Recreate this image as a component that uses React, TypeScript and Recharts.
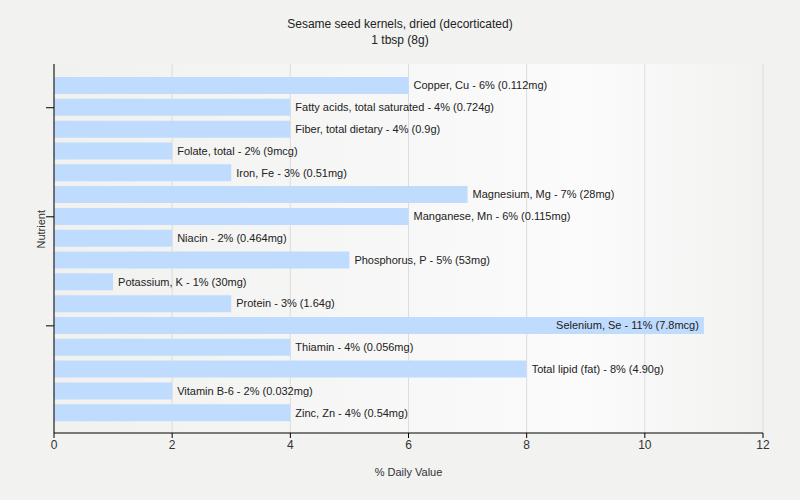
import React from 'react';
import { BarChart, Bar, XAxis, YAxis, CartesianGrid, LabelList } from 'recharts';

const titleLine1 = 'Sesame seed kernels, dried (decorticated)';
const titleLine2 = '1 tbsp (8g)';

const nutrients = [
  'Copper, Cu', 'Fatty acids, total saturated', 'Fiber, total dietary', 'Folate, total',
  'Iron, Fe', 'Magnesium, Mg', 'Manganese, Mn', 'Niacin', 'Phosphorus, P', 'Potassium, K',
  'Protein', 'Selenium, Se', 'Thiamin', 'Total lipid (fat)', 'Vitamin B-6', 'Zinc, Zn',
];
const dailyValues = [6, 4, 4, 2, 3, 7, 6, 2, 5, 1, 3, 11, 4, 8, 2, 4];
const amounts = [
  '0.112mg', '0.724g', '0.9g', '9mcg', '0.51mg', '28mg', '0.115mg', '0.464mg', '53mg', '30mg',
  '1.64g', '7.8mcg', '0.056mg', '4.90g', '0.032mg', '0.54mg',
];
const xTicks = [0, 2, 4, 6, 8, 10, 12];
const yTickIndices = [1, 6, 11];

const data = nutrients.map((n, i) => ({
  name: n,
  value: dailyValues[i],
  label: `${n} - ${dailyValues[i]}% (${amounts[i]})`,
}));

const FONT = '"Liberation Sans", Arial, sans-serif';
const W = 800;
const H = 500;
const RIGHT = 37;

const renderLabel = (props: any) => {
  const { x, y, width, height, value } = props;
  const end = Number(x) + Number(width);
  const est = String(value).length * 5.5;
  const inside = end + 5 + est > W - RIGHT;
  return (
    <text
      x={inside ? end - 5 : end + 5}
      y={Number(y) + Number(height) / 2}
      dy="0.35em"
      textAnchor={inside ? 'end' : 'start'}
      fontSize={11}
      fill="#222"
      fontFamily={FONT}
    >
      {value}
    </text>
  );
};

export default function App() {
  return (
    <div style={{ position: 'absolute', left: 0, top: 0, width: W, height: H, background: '#f2f2f1', fontFamily: FONT }}>
      <div style={{ position: 'absolute', top: 16, left: 0, width: W, textAlign: 'center', fontSize: 12, lineHeight: '16px', color: '#222' }}>
        <div>{titleLine1}</div>
        <div>{titleLine2}</div>
      </div>
      <div style={{ position: 'absolute', left: 0, top: 0 }}>
        <BarChart
          width={W}
          height={H}
          data={data}
          layout="vertical"
          margin={{ top: 64, right: RIGHT, left: 0, bottom: 0 }}
          barSize={17}
        >
          <defs>
            <linearGradient id="bgGrad" x1="0" y1="0" x2="1" y2="0">
              <stop offset="0%" stopColor="#f1f1f0" />
              <stop offset="75%" stopColor="#fbfbfb" />
              <stop offset="100%" stopColor="#f2f2f1" />
            </linearGradient>
          </defs>
          <CartesianGrid horizontal={false} stroke="#dcdcdc" fill="url(#bgGrad)" />
          <XAxis
            type="number"
            domain={[0, 12]}
            ticks={xTicks}
            height={67}
            tickSize={5}
            axisLine={{ stroke: '#000' }}
            tickLine={{ stroke: '#000' }}
            tick={{ fill: '#333', fontSize: 12, fontFamily: FONT }}
            label={{ value: '% Daily Value', position: 'insideTop', offset: 35, fill: '#333', fontSize: 11, fontFamily: FONT }}
          />
          <YAxis
            type="category"
            dataKey="name"
            width={54}
            ticks={yTickIndices.map((i) => nutrients[i])}
            tickSize={8}
            padding={{ top: 11, bottom: 9 }}
            axisLine={{ stroke: '#000' }}
            tickLine={{ stroke: '#000' }}
            tick={() => <g />}
            interval={0}
            label={{ value: 'Nutrient', angle: -90, position: 'insideLeft', offset: 41, fill: '#333', fontSize: 11, fontFamily: FONT }}
          />
          <Bar dataKey="value" fill="#bfdbfd" isAnimationActive={false}>
            <LabelList dataKey="label" content={renderLabel} />
          </Bar>
        </BarChart>
      </div>
    </div>
  );
}
